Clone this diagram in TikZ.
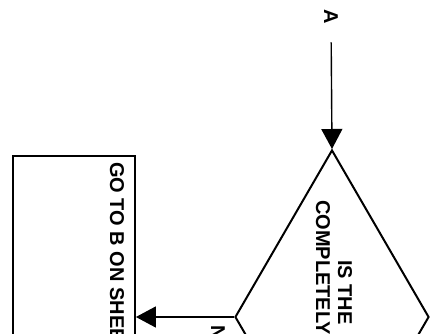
\documentclass[tikz,border=0pt]{standalone}
\usepackage{fontspec}
\setmainfont{Liberation Sans}
\usetikzlibrary{arrows.meta,shapes.geometric}

\begin{document}
\begin{tikzpicture}[x=1pt,y=-1pt,
  every node/.style={font=\bfseries\fontsize{20}{24}\selectfont},
  txt/.style={rotate=-90,inner sep=1pt},
  dec/.style={draw,diamond,line width=2pt,minimum width=194pt,minimum height=334pt,inner sep=0pt},
  boxnd/.style={draw,rectangle,line width=1.8pt,minimum width=122pt,minimum height=420pt,inner sep=0pt,anchor=north},
  arr/.style={-{Triangle[length=20pt,width=21pt]},line width=1.4pt}]
 \useasboundingbox (0,0) rectangle (437,334);
 \clip (0,0) rectangle (437,334);
 \node[dec] (q) at (332,317) {};
 \node[boxnd] (goB) at (74,155) {};
 \node[txt] (lblA) at (331,17) {A};
 \node[txt,anchor=west] (q1) at (345,259) {IS THE};
 \node[txt,anchor=west] (q2) at (323,199) {COMPLETELY};
 \node[txt,anchor=west] (goBt) at (117,161) {GO TO B ON SHEET};
 \node[txt,anchor=west] (no) at (218,324) {NO};
 \draw[arr,shorten <=17pt] (lblA) -- (q.north);
 \draw[arr] (q.west) -- (q.west -| goB.east);
\end{tikzpicture}
\end{document}
